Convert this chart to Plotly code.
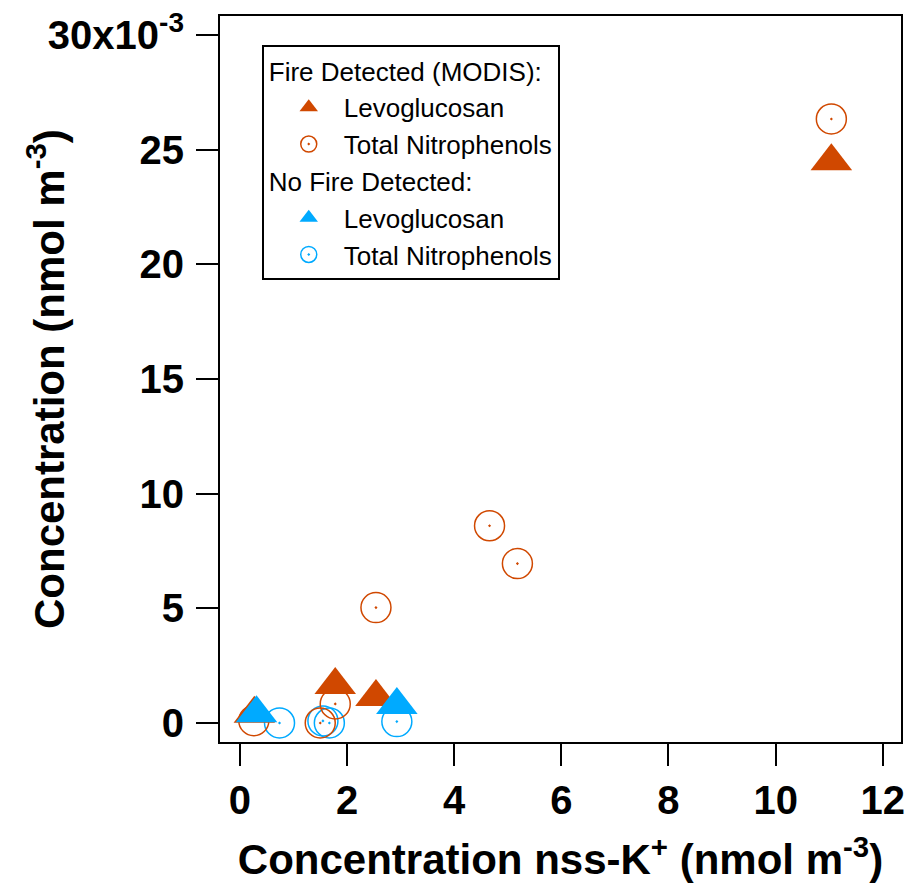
import plotly.graph_objects as go

# ---- data ----
fire_levo_x = [11.04, 1.78, 2.54, 0.27]
fire_levo_y = [0.02450, 0.00166, 0.00113, 0.00040]

fire_nitro_x = [11.04, 4.66, 5.18, 2.54, 0.26, 1.78, 1.50]
fire_nitro_y = [0.02634, 0.00860, 0.00695, 0.00503, 0.00010, 0.00083, 0.00000]

nofire_levo_x = [0.31, 2.93]
nofire_levo_y = [0.00042, 0.00078]

nofire_nitro_x = [0.74, 1.55, 1.67, 2.93]
nofire_nitro_y = [0.00000, 0.00009, 0.00000, 0.00006]

x_ticks = [0, 2, 4, 6, 8, 10, 12]
y_ticks = [0, 0.005, 0.010, 0.015, 0.020, 0.025, 0.030]
y_ticktext = ["0", "5", "10", "15", "20", "25", "30x10<sup>-3</sup>"]

ORANGE = "#D04800"
BLUE = "#00AAFF"
FONT = "Liberation Sans, Arial, sans-serif"

fig = go.Figure()

# drawing order: blue circles, orange circles, orange triangles, blue triangles
fig.add_trace(go.Scatter(
    x=nofire_nitro_x, y=nofire_nitro_y, mode="markers", name="Total Nitrophenols",
    legendgroup="nofire", legendgrouptitle_text="No Fire Detected:", legendrank=4,
    marker=dict(symbol="circle-open-dot", size=30, color=BLUE, line=dict(width=1.5, color=BLUE)),
))
fig.add_trace(go.Scatter(
    x=fire_nitro_x, y=fire_nitro_y, mode="markers", name="Total Nitrophenols",
    legendgroup="fire", legendgrouptitle_text="Fire Detected (MODIS):", legendrank=2,
    marker=dict(symbol="circle-open-dot", size=30, color=ORANGE, line=dict(width=1.5, color=ORANGE)),
))
fig.add_trace(go.Scatter(
    x=fire_levo_x, y=fire_levo_y, mode="markers", name="Levoglucosan",
    legendgroup="fire", legendgrouptitle_text="Fire Detected (MODIS):", legendrank=1,
    marker=dict(symbol="triangle-up", size=36, color=ORANGE, line=dict(width=0)),
))
fig.add_trace(go.Scatter(
    x=nofire_levo_x, y=nofire_levo_y, mode="markers", name="Levoglucosan",
    legendgroup="nofire", legendgrouptitle_text="No Fire Detected:", legendrank=3,
    marker=dict(symbol="triangle-up", size=36, color=BLUE, line=dict(width=0)),
))

axis_common = dict(
    showgrid=False, zeroline=False, showline=True, linewidth=2, linecolor="black",
    mirror=True, ticks="outside", ticklen=22, tickwidth=2, tickcolor="black",
    tickfont=dict(family=FONT, size=40, color="black", weight="bold"),
)

fig.update_layout(
    width=912, height=890,
    margin=dict(l=220, r=7, t=16, b=148),
    paper_bgcolor="white", plot_bgcolor="white",
    font=dict(family=FONT, color="black"),
    xaxis=dict(
        range=[-0.371, 12.34], tickvals=x_ticks, ticktext=[str(v) for v in x_ticks],
        title=dict(text="Concentration nss-K<sup>+</sup> (nmol m<sup>-3</sup>)",
                   font=dict(family=FONT, size=42, color="black", weight="bold"), standoff=24),
        **axis_common,
    ),
    yaxis=dict(
        range=[-0.00083, 0.03083], tickvals=y_ticks, ticktext=y_ticktext,
        ticklabelstandoff=4,
        **axis_common,
    ),
    legend=dict(
        x=0.0613, y=0.960, xanchor="left", yanchor="top",
        bgcolor="white", bordercolor="black", borderwidth=2,
        font=dict(family=FONT, size=26, color="black"),
        grouptitlefont=dict(family=FONT, size=26, color="black"),
        tracegroupgap=0, indentation=10, itemwidth=60,
    ),
    showlegend=True,
    annotations=[dict(
        text="Concentration (nmol m<sup>-3</sup>)", textangle=-90,
        xref="paper", yref="paper", x=-0.2555, y=0.5, xanchor="center", yanchor="middle",
        showarrow=False, font=dict(family=FONT, size=42, color="black", weight="bold"),
    )],
)

fig.write_html("out.html")
